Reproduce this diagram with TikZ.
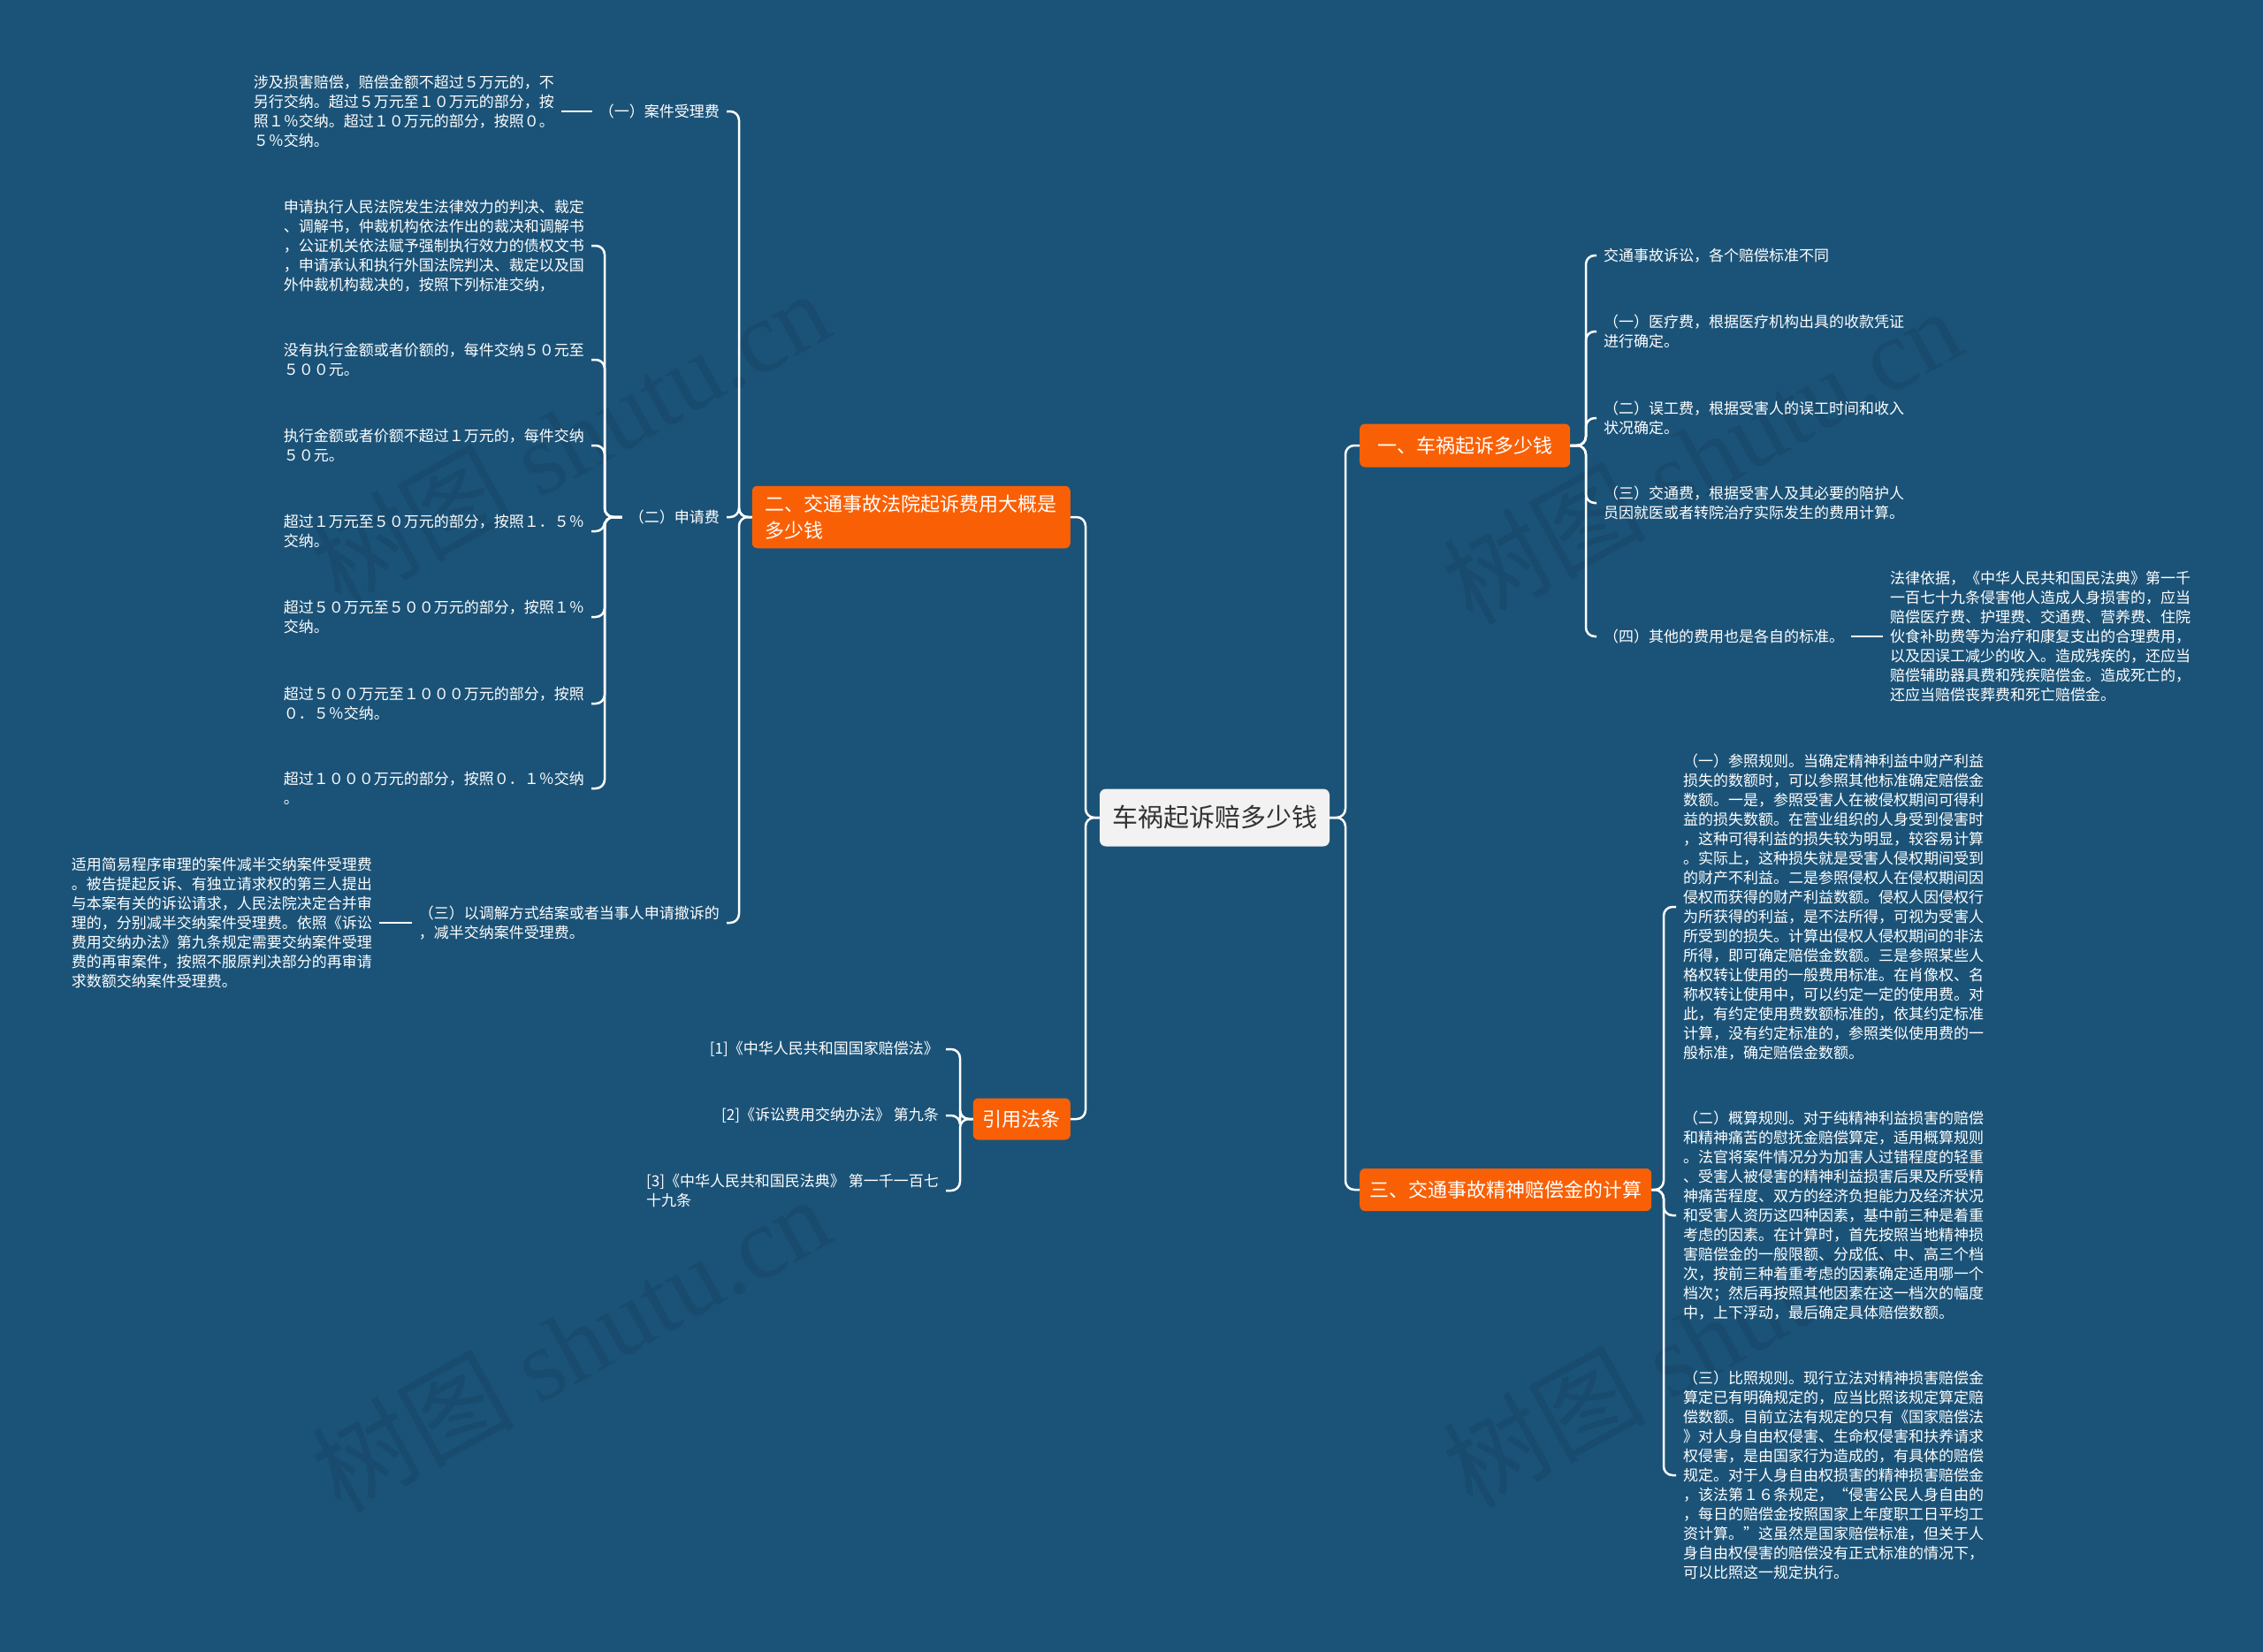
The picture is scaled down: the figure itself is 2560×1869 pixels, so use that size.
\documentclass[tikz,border=0pt]{standalone}
\usepackage{fontspec}
\setmainfont{Noto Sans CJK SC}
\newfontfamily\wmlatin{Liberation Serif}
\usetikzlibrary{calc}
\definecolor{bg}{RGB}{27,83,120}
\definecolor{orng}{RGB}{249,96,5}
\definecolor{ctr}{RGB}{242,242,242}
\definecolor{ctrtxt}{RGB}{51,51,51}
\definecolor{wmcol}{RGB}{10,35,55}
\tikzset{
  conn/.style={draw=white, line width=2.5pt, rounded corners=10pt},
  txt/.style={text=white, font=\fontsize{17}{22}\selectfont, align=left, inner xsep=8pt, inner ysep=3pt},
  blk/.style={txt, text width=340pt},
  branch/.style={fill=orng, text=white, rounded corners=6pt, font=\fontsize{22}{30}\selectfont, inner xsep=11pt, inner ysep=10pt, align=left},
  root/.style={fill=ctr, text=ctrtxt, rounded corners=7pt, font=\fontsize{29}{34}\selectfont, minimum width=260pt, minimum height=65pt},
  wm/.style={text=wmcol, opacity=0.16, rotate=29, font=\fontsize{115}{120}\selectfont}
}
\begin{document}
\begin{tikzpicture}[x=1pt,y=-1pt]
\fill[bg] (0,0) rectangle (2560,1869);
\useasboundingbox (0,0) rectangle (2560,1869);

% watermarks
\node[wm] (w1) at (645,495) {树图 {\wmlatin shutu.cn}};
\node[wm] (w2) at (645,1520) {树图 {\wmlatin shutu.cn}};
\node[wm] (w3) at (1925,515) {树图 {\wmlatin shutu.cn}};
\node[wm] (w4) at (1925,1515) {树图 {\wmlatin shutu.cn}};

% vertical connector lines
\coordinate (vL) at (1228,0);
\coordinate (vR) at (1522,0);
\coordinate (vA) at (1794,0);
\coordinate (vE) at (1882,0);
\coordinate (vB) at (836,0);
\coordinate (vD) at (684,0);
\coordinate (vG) at (1086,0);

% root and branches
\node[root] (root) at (1374,925) {车祸起诉赔多少钱};
\node[branch, anchor=west, minimum width=238pt, minimum height=49pt] (b1) at (1538,504) {一、车祸起诉多少钱};
\node[branch, anchor=east, minimum width=360pt] (b2) at (1211,585) {二、交通事故法院起诉费用大概是\\多少钱};
\node[branch, anchor=west, minimum height=48pt] (b3) at (1538,1346) {三、交通事故精神赔偿金的计算};
\node[branch, anchor=east, minimum height=47pt] (b4) at (1211,1266) {引用法条};

% branch 1 children
\node[txt, anchor=west] (a1) at (1806,289) {交通事故诉讼，各个赔偿标准不同};
\node[txt, anchor=west] (a2) at (1806,375) {（一）医疗费，根据医疗机构出具的收款凭证\\进行确定。};
\node[txt, anchor=west] (a3) at (1806,473) {（二）误工费，根据受害人的误工时间和收入\\状况确定。};
\node[txt, anchor=west] (a4) at (1806,569) {（三）交通费，根据受害人及其必要的陪护人\\员因就医或者转院治疗实际发生的费用计算。};
\node[txt, anchor=west] (a5) at (1806,720) {（四）其他的费用也是各自的标准。};
\node[blk, anchor=west] (a6) at (2130,720) {法律依据，《中华人民共和国民法典》第一千\\一百七十九条侵害他人造成人身损害的，应当\\赔偿医疗费、护理费、交通费、营养费、住院\\伙食补助费等为治疗和康复支出的合理费用，\\以及因误工减少的收入。造成残疾的，还应当\\赔偿辅助器具费和残疾赔偿金。造成死亡的，\\还应当赔偿丧葬费和死亡赔偿金。};

% branch 3 children
\node[blk, anchor=west] (e1) at (1896,1026) {（一）参照规则。当确定精神利益中财产利益\\损失的数额时，可以参照其他标准确定赔偿金\\数额。一是，参照受害人在被侵权期间可得利\\益的损失数额。在营业组织的人身受到侵害时\\，这种可得利益的损失较为明显，较容易计算\\。实际上，这种损失就是受害人侵权期间受到\\的财产不利益。二是参照侵权人在侵权期间因\\侵权而获得的财产利益数额。侵权人因侵权行\\为所获得的利益，是不法所得，可视为受害人\\所受到的损失。计算出侵权人侵权期间的非法\\所得，即可确定赔偿金数额。三是参照某些人\\格权转让使用的一般费用标准。在肖像权、名\\称权转让使用中，可以约定一定的使用费。对\\此，有约定使用费数额标准的，依其约定标准\\计算，没有约定标准的，参照类似使用费的一\\般标准，确定赔偿金数额。};
\node[blk, anchor=west] (e2) at (1896,1375) {（二）概算规则。对于纯精神利益损害的赔偿\\和精神痛苦的慰抚金赔偿算定，适用概算规则\\。法官将案件情况分为加害人过错程度的轻重\\、受害人被侵害的精神利益损害后果及所受精\\神痛苦程度、双方的经济负担能力及经济状况\\和受害人资历这四种因素，基中前三种是着重\\考虑的因素。在计算时，首先按照当地精神损\\害赔偿金的一般限额、分成低、中、高三个档\\次，按前三种着重考虑的因素确定适用哪一个\\档次；然后再按照其他因素在这一档次的幅度\\中，上下浮动，最后确定具体赔偿数额。};
\node[blk, anchor=west] (e3) at (1896,1669) {（三）比照规则。现行立法对精神损害赔偿金\\算定已有明确规定的，应当比照该规定算定赔\\偿数额。目前立法有规定的只有《国家赔偿法\\》对人身自由权侵害、生命权侵害和扶养请求\\权侵害，是由国家行为造成的，有具体的赔偿\\规定。对于人身自由权损害的精神损害赔偿金\\，该法第１６条规定，“侵害公民人身自由的\\，每日的赔偿金按照国家上年度职工日平均工\\资计算。”这虽然是国家赔偿标准，但关于人\\身自由权侵害的赔偿没有正式标准的情况下，\\可以比照这一规定执行。};

% branch 2 children
\node[txt, anchor=east] (f1) at (822,126) {（一）案件受理费};
\node[blk, anchor=east] (f1d) at (635,126) {涉及损害赔偿，赔偿金额不超过５万元的，不\\另行交纳。超过５万元至１０万元的部分，按\\照１％交纳。超过１０万元的部分，按照０。\\５％交纳。};
\node[txt, anchor=east] (f2) at (822,585) {（二）申请费};
\node[blk, anchor=east] (d1) at (669,278) {申请执行人民法院发生法律效力的判决、裁定\\、调解书，仲裁机构依法作出的裁决和调解书\\，公证机关依法赋予强制执行效力的债权文书\\，申请承认和执行外国法院判决、裁定以及国\\外仲裁机构裁决的，按照下列标准交纳，};
\node[blk, anchor=east] (d2) at (669,407) {没有执行金额或者价额的，每件交纳５０元至\\５００元。};
\node[blk, anchor=east] (d3) at (669,504) {执行金额或者价额不超过１万元的，每件交纳\\５０元。};
\node[blk, anchor=east] (d4) at (669,601) {超过１万元至５０万元的部分，按照１．５％\\交纳。};
\node[blk, anchor=east] (d5) at (669,698) {超过５０万元至５００万元的部分，按照１％\\交纳。};
\node[blk, anchor=east] (d6) at (669,796) {超过５００万元至１０００万元的部分，按照\\０．５％交纳。};
\node[blk, anchor=east] (d7) at (669,892) {超过１０００万元的部分，按照０．１％交纳\\。};
\node[blk, anchor=east] (f3) at (822,1044) {（三）以调解方式结案或者当事人申请撤诉的\\，减半交纳案件受理费。};
\node[blk, anchor=east] (f3d) at (429,1044) {适用简易程序审理的案件减半交纳案件受理费\\。被告提起反诉、有独立请求权的第三人提出\\与本案有关的诉讼请求，人民法院决定合并审\\理的，分别减半交纳案件受理费。依照《诉讼\\费用交纳办法》第九条规定需要交纳案件受理\\费的再审案件，按照不服原判决部分的再审请\\求数额交纳案件受理费。};

% citation children
\node[txt, anchor=east] (g1) at (1070,1187) {[1]《中华人民共和国国家赔偿法》};
\node[txt, anchor=east] (g2) at (1070,1262) {[2]《诉讼费用交纳办法》 第九条};
\node[txt, anchor=east] (g3) at (1070,1347) {[3]《中华人民共和国民法典》 第一千一百七\\十九条};

% connectors: root
\foreach \c in {b1,b3} \draw[conn] (root.east) -- (root.east -| vR) |- (\c.west);
\foreach \c in {b2,b4} \draw[conn] (root.west) -- (root.west -| vL) |- (\c.east);
% branch 1
\foreach \c in {a1,a2,a3,a4,a5} \draw[conn] (b1.east) -- (b1.east -| vA) |- (\c.west);
\draw[conn] (a5.east) -- (a6.west);
% branch 3
\foreach \c in {e1,e2,e3} \draw[conn] (b3.east) -- (b3.east -| vE) |- (\c.west);
% branch 2
\foreach \c in {f1,f2,f3} \draw[conn] (b2.west) -- (b2.west -| vB) |- (\c.east);
\draw[conn] (f1.west) -- (f1d.east);
\draw[conn] (f3.west) -- (f3d.east);
\foreach \c in {d1,d2,d3,d4,d5,d6,d7} \draw[conn] (f2.west) -- (f2.west -| vD) |- (\c.east);
% branch 4
\foreach \c in {g1,g2,g3} \draw[conn] (b4.west) -- (b4.west -| vG) |- (\c.east);
\end{tikzpicture}
\end{document}
